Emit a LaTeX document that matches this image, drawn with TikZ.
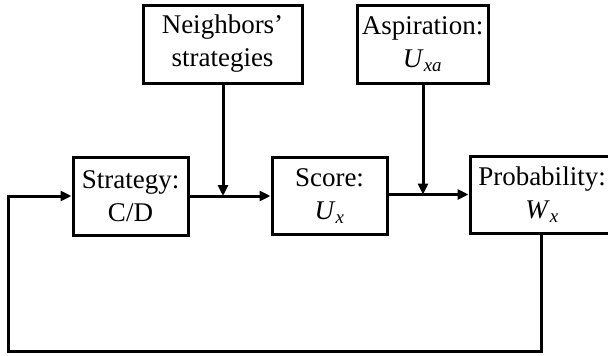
\documentclass[tikz,border=0pt]{standalone}
\usepackage{fontspec}
\setmainfont{Liberation Serif}
\usetikzlibrary{arrows.meta}
\begin{document}
\begin{tikzpicture}[x=1pt,y=-1pt,
  blk/.style={draw,line width=3pt,align=center,inner sep=0pt,
    font=\fontsize{27}{33}\selectfont},
  conn/.style={line width=3pt,-{Triangle[length=11pt,width=10pt]}},
  plain/.style={line width=3pt}]
\useasboundingbox (0,0) rectangle (608,356);
\node[blk,minimum width=115pt,minimum height=78pt] (strat) at (130.5,196) {Strategy:\\C/D};
\node[blk,minimum width=159pt,minimum height=78pt] (neigh) at (222.5,44) {Neighbors’\\strategies};
\node[blk,minimum width=115pt,minimum height=77pt] (score) at (329.5,196) {Score:\\\textit{U}\textsubscript{\textit{x}}};
\node[blk,minimum width=131pt,minimum height=78pt] (asp) at (422.5,44) {Aspiration:\\\textit{U}\textsubscript{\textit{xa}}};
\node[blk,minimum width=144pt,minimum height=77pt] (prob) at (542,194.5) {Probability:\\\textit{W}\textsubscript{\textit{x}}};
\coordinate (j1) at (223,196);
\coordinate (j2) at (423,194.5);
\coordinate (b1) at (541,351);
\coordinate (b2) at (8,351);
\coordinate (b3) at (8,196);
\draw[conn] (strat.east) -- (score.west);
\draw[conn] (neigh.south -| j1) -- (j1);
\draw[conn] (score.east |- prob.west) -- (prob.west);
\draw[conn] (asp.south -| j2) -- (j2);
\draw[conn] (prob.south -| b1) -- (b1) -- (b2) -- (b3) -- (strat.west);
\end{tikzpicture}
\end{document}
